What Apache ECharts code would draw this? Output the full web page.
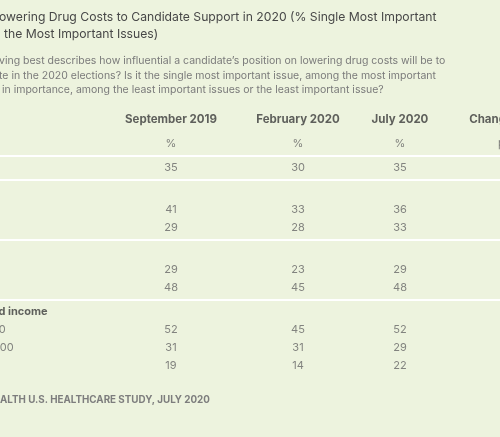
<!DOCTYPE html>
<html><head><meta charset="utf-8">
<script src="https://cdn.jsdelivr.net/npm/echarts@6/dist/echarts.min.js"></script>
<style>html,body{margin:0;padding:0;background:#edf3de}#c{width:500px;height:437px}</style>
</head><body><div id="c"></div>
<script>
// ---- data ----
const columns = ['September 2019', 'February 2020', 'July 2020', 'Change, Feb-July'];
const units = ['%', '%', '%', 'pct. pts.'];
const rowLabels = ['', '', '', '', '', '', '', 'Annual household income', 'Less than $40,000', '$40,000-<$100,000', '$100,000+'];
const rowIsGroupHeader = [false, true, false, false, true, false, false, true, false, false, false];
const rowHasRuleAbove = [true, true, false, false, true, false, false, true, false, false, false];
const sep2019 = [35, null, 41, 29, null, 29, 48, null, 52, 31, 19];
const feb2020 = [30, null, 33, 28, null, 23, 45, null, 45, 31, 14];
const jul2020 = [35, null, 36, 33, null, 29, 48, null, 52, 29, 22];
const titleLines = ['owering Drug Costs to Candidate Support in 2020 (% Single Most Important', 'the Most Important Issues)'];
const questionLines = ['ving best describes how influential a candidate\u2019s position on lowering drug costs will be to',
  'te in the 2020 elections? Is it the single most important issue, among the most important',
  'in importance, among the least important issues or the least important issue?'];
const sourceText = 'ALTH U.S. HEALTHCARE STUDY, JULY 2020';

// ---- layout ----
const FONT = 'Inter, "Noto Sans", sans-serif';
const BG = '#edf3de';
const colCenters = [171, 298, 400, 460];
const colLabelShift = [0, 0, 0, 59];
const gridTop = 96, gridHeight = 288, yMin = -4, yMax = 12;
const labelX0 = -92;

// row positions (in row units) derived from structure
const pos = [];
let nRules = 0;
for (let i = 0; i < rowLabels.length; i++) {
  if (rowHasRuleAbove[i] && i > 0) nRules++;
  pos.push(i + nRules / 3);
}
const unitPos = -1 - 1 / 3;
const headerPos = unitPos - 1 - 1 / 3;
const rulePos = [];
rowHasRuleAbove.forEach((r, i) => {
  if (!r) return;
  const prev = i === 0 ? unitPos : pos[i - 1];
  rulePos.push((prev + pos[i]) / 2);
});

const valueCols = [sep2019, feb2020, jul2020, null];

const grids = [], xAxes = [], yAxes = [], series = [];
function addGrid(g, xa) {
  grids.push(Object.assign({ top: gridTop, height: gridHeight, containLabel: false }, g));
  xAxes.push(Object.assign({ gridIndex: grids.length - 1, show: false }, xa));
  yAxes.push({ gridIndex: grids.length - 1, type: 'value', inverse: true, min: yMin, max: yMax, show: false });
  return grids.length - 1;
}

// rules grid (full width)
const rg = addGrid({ left: 0, right: 0 }, { type: 'value', min: 0, max: 1 });
series.push({
  type: 'line', xAxisIndex: rg, yAxisIndex: rg, data: [], silent: true,
  markLine: { silent: true, symbol: ['none', 'none'], label: { show: false },
    lineStyle: { color: '#ffffff', width: 2, type: 'solid' },
    data: rulePos.map(p => ({ yAxis: p })) }
});

// value columns
columns.forEach((name, k) => {
  const l = colCenters[k] - 40;
  const gi = addGrid({ left: l, width: 80 }, { type: 'category', data: [name] });
  const data = [
    { value: [0, headerPos], label: { formatter: name, fontWeight: 'bold', color: '#3a3a3a', fontSize: 11.5 } },
    { value: [0, unitPos], label: { formatter: units[k], color: '#666', fontSize: 11 } }
  ];
  const vals = valueCols[k];
  if (vals) vals.forEach((v, i) => { if (v !== null) data.push({ value: [0, pos[i]], label: { formatter: String(v) } }); });
  series.push({
    type: 'scatter', xAxisIndex: gi, yAxisIndex: gi, symbolSize: 0, silent: true, data,
    label: { show: true, position: 'inside', offset: [colLabelShift[k], 0], color: '#666', fontSize: 11, fontFamily: FONT }
  });
});

// row labels
const lg = addGrid({ left: 0, width: 10 }, { type: 'value', min: 0, max: 1 });
series.push({
  type: 'scatter', xAxisIndex: lg, yAxisIndex: lg, symbolSize: 0, silent: true,
  data: rowLabels.map((t, i) => ({ value: [0, pos[i]], label: { formatter: t,
    fontWeight: rowIsGroupHeader[i] ? 'bold' : 'normal', color: rowIsGroupHeader[i] ? '#3a3a3a' : '#666',
    fontSize: 11 } })).filter(d => d.label.formatter !== ''),
  label: { show: true, position: 'right', distance: 0, align: 'left', offset: [labelX0, 0], fontFamily: FONT }
});

const titles = [
  { text: titleLines[0], left: -1, top: 11, textStyle: { fontSize: 12.2, color: '#474747' } },
  { text: titleLines[1], left: 4, top: 28, textStyle: { fontSize: 12.2, color: '#474747' } },
  { text: questionLines[0], left: -1, top: 55, textStyle: { fontSize: 10.5, color: '#7a7a7a' } },
  { text: questionLines[1], left: -1, top: 70, textStyle: { fontSize: 10.5, color: '#7a7a7a' } },
  { text: questionLines[2], left: 2, top: 84, textStyle: { fontSize: 10.5, color: '#7a7a7a' } },
  { text: sourceText, left: 0, top: 395, textStyle: { fontSize: 9.8, fontWeight: 'bold', color: '#7d7d7d' } }
].map(t => { t.padding = 0; t.textStyle.fontFamily = FONT; t.textStyle.fontWeight = t.textStyle.fontWeight || 'normal'; return t; });

const chart = echarts.init(document.getElementById('c'), null, { renderer: 'canvas' });
chart.setOption({
  backgroundColor: BG, animation: false,
  title: titles, grid: grids, xAxis: xAxes, yAxis: yAxes, series
});
</script></body></html>
